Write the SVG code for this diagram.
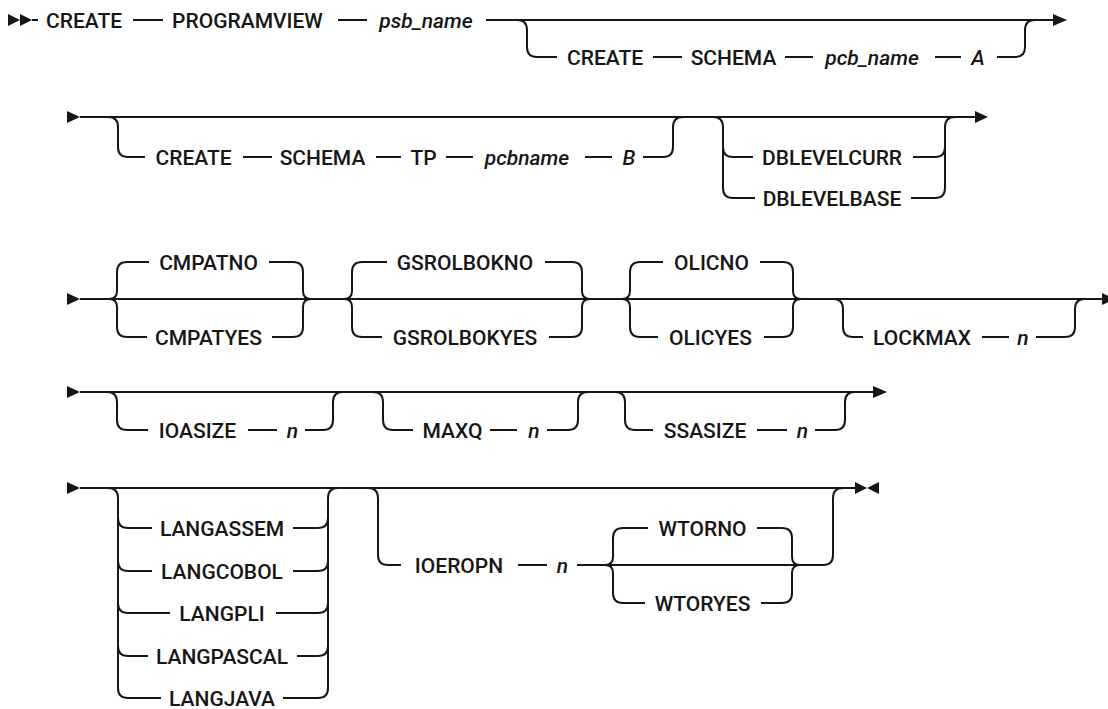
<svg xmlns="http://www.w3.org/2000/svg" width="1108" height="709" viewBox="0 0 1108 709">
<style>
.t{font-family:Roboto,"Liberation Sans",Arial,sans-serif;font-size:21px;font-weight:500;fill:#161616;text-anchor:middle}
.i{font-style:italic}
.c{fill:none;stroke:#161616;stroke-width:2}
.a{fill:#161616;stroke:none}
</style>
<rect width="1108" height="709" fill="#fff"/>
<g id="connectors">
<!-- row 1 -->
<polygon class="a" points="8,14 20,20 8,26"/>
<polygon class="a" points="20,14 32,20 20,26"/>
<path class="c" d="M32,20 H38 M133,20 H163 M338,20 H367 M486,20 H1053"/>
<polygon class="a" points="1053,14 1067,20 1053,26"/>
<path class="c" d="M517,20 Q527,20 527,30 V47 Q527,57 537,57 H557 M653,57 H682 M785,57 H813 M935,57 H961 M997,57 H1015 Q1025,57 1025,47 V30 Q1025,20 1035,20"/>
<!-- row 2 -->
<polygon class="a" points="67,111 80,117 67,123"/>
<path class="c" d="M80,117 H975"/>
<polygon class="a" points="975,111 988,117 975,123"/>
<path class="c" d="M108,117 Q118,117 118,127 V147 Q118,157 128,157 H145 M243,157 H272 M376,157 H401 M446,157 H473 M585,157 H612 M643,157 H663 Q673,157 673,147 V127 Q673,117 683,117"/>
<path class="c" d="M713,117 Q723,117 723,127 V188 Q723,198 733,198 H755 M723,147 Q723,157 733,157 H753 M913,157 H935 Q945,157 945,147 V127 Q945,117 955,117 M911,198 H935 Q945,198 945,188 V147"/>
<!-- row 3 -->
<polygon class="a" points="67,293 80,299 67,305"/>
<path class="c" d="M80,299 H1102"/>
<polygon class="a" points="1102,293 1115,299 1102,305"/>
<path class="c" d="M109,299 Q117,299 117,291 V272 Q117,262 127,262 H149 M109,299 Q117,299 117,307 V327 Q117,337 127,337 H147 M269,262 H293 Q303,262 303,272 V291 Q303,299 311,299 M272,337 H293 Q303,337 303,327 V307 Q303,299 311,299"/>
<path class="c" d="M344,299 Q352,299 352,291 V272 Q352,262 362,262 H387 M344,299 Q352,299 352,307 V327 Q352,337 362,337 H382 M545,262 H572 Q582,262 582,272 V291 Q582,299 590,299 M549,337 H572 Q582,337 582,327 V307 Q582,299 590,299"/>
<path class="c" d="M622,299 Q630,299 630,291 V272 Q630,262 640,262 H663 M622,299 Q630,299 630,307 V327 Q630,337 640,337 H658 M760,262 H783 Q793,262 793,272 V291 Q793,299 801,299 M764,337 H783 Q793,337 793,327 V307 Q793,299 801,299"/>
<path class="c" d="M833,299 Q843,299 843,309 V327 Q843,337 853,337 H863 M982,337 H1009 M1036,337 H1065 Q1075,337 1075,327 V309 Q1075,299 1085,299"/>
<!-- row 4 -->
<polygon class="a" points="67,386 80,392 67,398"/>
<path class="c" d="M80,392 H873"/>
<polygon class="a" points="873,386 887,392 873,398"/>
<path class="c" d="M107,392 Q117,392 117,402 V420 Q117,430 127,430 H148 M248,430 H277 M305,430 H323 Q333,430 333,420 V402 Q333,392 343,392"/>
<path class="c" d="M373,392 Q383,392 383,402 V420 Q383,430 393,430 H413 M490,430 H517 M547,430 H568 Q578,430 578,420 V402 Q578,392 588,392"/>
<path class="c" d="M615,392 Q625,392 625,402 V420 Q625,430 635,430 H653 M757,430 H787 M815,430 H835 Q845,430 845,420 V402 Q845,392 855,392"/>
<!-- row 5 -->
<polygon class="a" points="67,482 80,488 67,494"/>
<path class="c" d="M80,488 H855"/>
<polygon class="a" points="855,482 867,488 855,494"/>
<polygon class="a" points="879,482 867,488 879,494"/>
<path class="c" d="M108,488 Q118,488 118,498 V688 Q118,698 128,698 H161 M118,518 Q118,528 128,528 H152 M118,561 Q118,571 128,571 H152 M118,603 Q118,613 128,613 H170 M118,646 Q118,656 128,656 H148"/>
<path class="c" d="M283,698 H318 Q328,698 328,688 V498 Q328,488 338,488 M293,528 H318 Q328,528 328,518 M293,571 H318 Q328,571 328,561 M276,613 H318 Q328,613 328,603 M297,656 H318 Q328,656 328,646"/>
<path class="c" d="M368,488 Q378,488 378,498 V555 Q378,565 388,565 H401 M518,565 H547 M577,565 H823 Q833,565 833,555 V498 Q833,488 843,488"/>
<path class="c" d="M605,565 Q613,565 613,557 V538 Q613,528 623,528 H648 M605,565 Q613,565 613,573 V593 Q613,603 623,603 H645 M757,528 H782 Q792,528 792,538 V557 Q792,565 800,565 M761,603 H782 Q792,603 792,593 V573 Q792,565 800,565"/>
</g>
<g id="n-create1"><text class="t" x="84" y="27.5">CREATE</text></g>
<g id="n-programview"><text class="t" x="247.5" y="27.5">PROGRAMVIEW</text></g>
<g id="n-psb_name"><text class="t i" x="426" y="27.5">psb_name</text></g>
<g id="n-create2"><text class="t" x="605" y="64.5">CREATE</text></g>
<g id="n-schema1"><text class="t" x="733.5" y="64.5">SCHEMA</text></g>
<g id="n-pcb_name"><text class="t i" x="872" y="64.5">pcb_name</text></g>
<g id="n-a"><text class="t i" x="978" y="64.5">A</text></g>
<g id="n-create3"><text class="t" x="193.5" y="164.5">CREATE</text></g>
<g id="n-schema2"><text class="t" x="322.5" y="164.5">SCHEMA</text></g>
<g id="n-tp"><text class="t" x="423.5" y="164.5">TP</text></g>
<g id="n-pcbname"><text class="t i" x="527" y="164.5">pcbname</text></g>
<g id="n-b"><text class="t i" x="629" y="164.5">B</text></g>
<g id="n-dblevelcurr"><text class="t" x="832" y="164.5">DBLEVELCURR</text></g>
<g id="n-dblevelbase"><text class="t" x="832" y="205.5">DBLEVELBASE</text></g>
<g id="n-cmpatno"><text class="t" x="208.5" y="269.5">CMPATNO</text></g>
<g id="n-cmpatyes"><text class="t" x="208.5" y="344.5">CMPATYES</text></g>
<g id="n-gsrolbokno"><text class="t" x="465" y="269.5">GSROLBOKNO</text></g>
<g id="n-gsrolbokyes"><text class="t" x="465" y="344.5">GSROLBOKYES</text></g>
<g id="n-olicno"><text class="t" x="711.5" y="269.5">OLICNO</text></g>
<g id="n-olicyes"><text class="t" x="710.5" y="344.5">OLICYES</text></g>
<g id="n-lockmax"><text class="t" x="922" y="344.5">LOCKMAX</text></g>
<g id="n-lockmax-n"><text class="t i" x="1023" y="344.5">n</text></g>
<g id="n-ioasize"><text class="t" x="197.5" y="437.5">IOASIZE</text></g>
<g id="n-ioasize-n"><text class="t i" x="292.5" y="437.5">n</text></g>
<g id="n-maxq"><text class="t" x="452.5" y="437.5">MAXQ</text></g>
<g id="n-maxq-n"><text class="t i" x="534" y="437.5">n</text></g>
<g id="n-ssasize"><text class="t" x="705" y="437.5">SSASIZE</text></g>
<g id="n-ssasize-n"><text class="t i" x="802.5" y="437.5">n</text></g>
<g id="n-langassem"><text class="t" x="222" y="535.5">LANGASSEM</text></g>
<g id="n-langcobol"><text class="t" x="222" y="578.5">LANGCOBOL</text></g>
<g id="n-langpli"><text class="t" x="222" y="620.5">LANGPLI</text></g>
<g id="n-langpascal"><text class="t" x="222" y="663.5">LANGPASCAL</text></g>
<g id="n-langjava"><text class="t" x="222" y="705.5">LANGJAVA</text></g>
<g id="n-ioeropn"><text class="t" x="459" y="572.5">IOEROPN</text></g>
<g id="n-ioeropn-n"><text class="t i" x="562.5" y="572.5">n</text></g>
<g id="n-wtorno"><text class="t" x="702.5" y="535.5">WTORNO</text></g>
<g id="n-wtoryes"><text class="t" x="702.5" y="610.5">WTORYES</text></g>
</svg>
